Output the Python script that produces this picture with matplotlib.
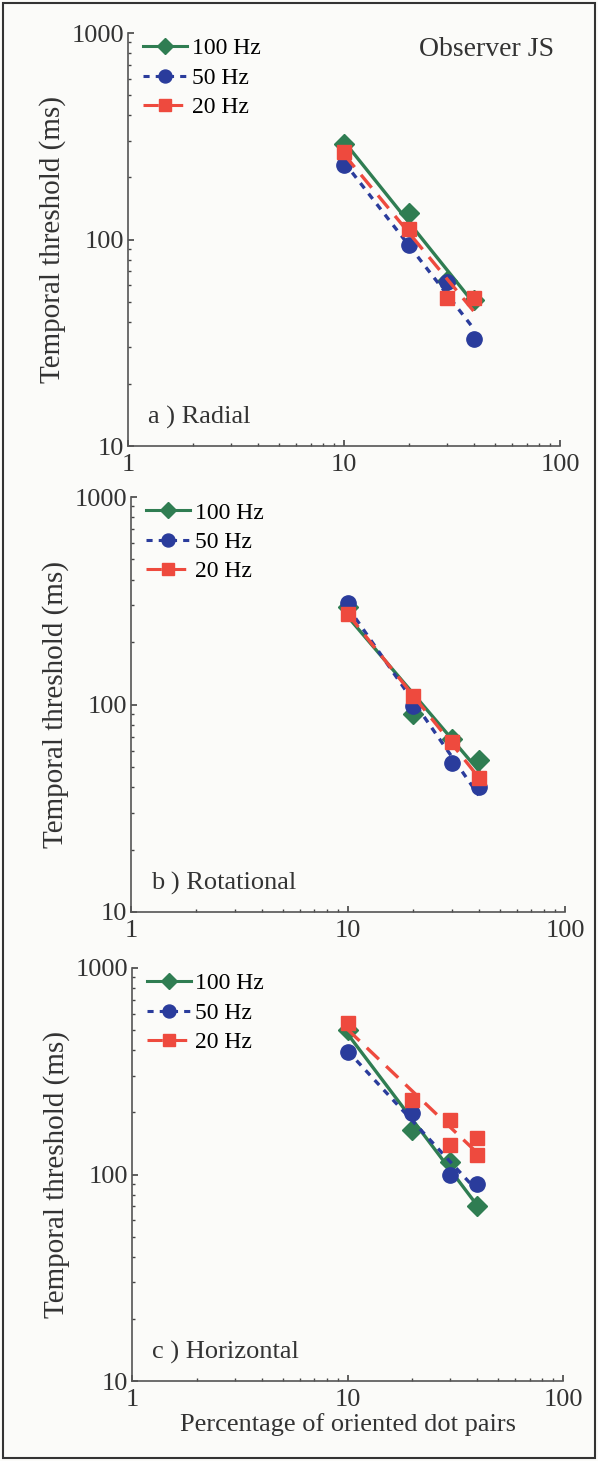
import numpy as np
import matplotlib.pyplot as plt
from matplotlib.patches import Rectangle

plt.rcParams['font.family'] = ['Liberation Serif', 'DejaVu Serif']

# Percentage of oriented dot pairs (x) and temporal thresholds (ms)
x_pct = [10, 20, 30, 40]
x_pct_c20 = [10, 20, 30, 30, 40, 40]

radial_100 = [290, 135, 63, 51]
radial_50 = [230, 94, 62, 33]
radial_20 = [265, 112, 52, 52]

rot_100 = [296, 90, 68, 54]
rot_50 = [307, 98, 52, 40]
rot_20 = [272, 110, 66, 44]

horiz_100 = [500, 164, 115, 70]
horiz_50 = [393, 198, 99, 90]
horiz_20 = [542, 230, 184, 139, 150, 124]

panel_labels = ['a ) Radial', 'b ) Rotational', 'c ) Horizontal']
freq_labels = ['100 Hz', '50 Hz', '20 Hz']

GREEN = '#2f7d52'
BLUE = '#2a3c9c'
RED = '#ee4a3e'

styles = [
    dict(color=GREEN, marker='D', ls='-', ms=10),
    dict(color=BLUE, marker='o', ls=(0, (2, 2)), ms=11),
    dict(color=RED, marker='s', ls=(0, (5, 3)), ms=10),
]

panels = [
    ([x_pct, x_pct, x_pct], [radial_100, radial_50, radial_20]),
    ([x_pct, x_pct, x_pct], [rot_100, rot_50, rot_20]),
    ([x_pct, x_pct, x_pct_c20], [horiz_100, horiz_50, horiz_20]),
]

W, H = 598, 1461
fig = plt.figure(figsize=(W / 100, H / 100), dpi=100)
fig.patch.set_facecolor('#fbfbf9')
TXT = '#333333'

# axes rectangles in pixels: left, top, right, bottom
boxes = [(128, 33, 560, 446), (131, 497, 565, 912), (132, 968, 563, 1381)]

for k, ((xs, ys), box) in enumerate(zip(panels, boxes)):
    l, t, r, b = box
    ax = fig.add_axes([l / W, 1 - b / H, (r - l) / W, (b - t) / H])
    ax.set_facecolor('none')
    ax.set_xscale('log')
    ax.set_yscale('log')
    ax.set_xlim(1, 100)
    ax.set_ylim(10, 1000)

    handles = []
    for xv, yv, st, lab in zip(xs, ys, styles, freq_labels):
        # power-law fit drawn as straight line in log-log
        p = np.polyfit(np.log10(xv), np.log10(yv), 1)
        xf = np.array([10, 40])
        yf = 10 ** np.polyval(p, np.log10(xf))
        ax.plot(xf, yf, color=st['color'], ls=st['ls'], lw=2.4)
        ax.plot(xv, yv, ls='none', marker=st['marker'], color=st['color'],
                ms=st['ms'], mec=st['color'])
        h, = ax.plot([], [], color=st['color'], ls=st['ls'], lw=2.2,
                     marker=st['marker'], ms=st['ms'] * 0.85)
        handles.append(h)

    ax.legend(handles, freq_labels, loc='upper left', frameon=False,
              fontsize=17, handlelength=1.85, handletextpad=0.2,
              labelspacing=0.33, borderaxespad=0, borderpad=0,
              bbox_to_anchor=(0.035, 0.988))

    for s in ['top', 'right']:
        ax.spines[s].set_visible(False)
    for s in ['left', 'bottom']:
        ax.spines[s].set_color('#555555')
        ax.spines[s].set_linewidth(1.2)

    ax.set_xticks([1, 10, 100])
    ax.set_xticklabels(['1', '10', '100'])
    ax.set_yticks([10, 100, 1000])
    ax.set_yticklabels(['10', '100', '1000'])
    ax.tick_params(which='major', direction='in', length=4, width=1.2,
                   labelsize=19, colors='#444444', labelcolor=TXT, pad=3)
    ax.tick_params(axis='x', which='major', pad=6)
    ax.tick_params(which='minor', direction='in', length=2.5, width=1,
                   colors='#444444')

    ax.set_ylabel('Temporal threshold (ms)', fontsize=21, color=TXT,
                  labelpad=4)
    ax.text(0.046, 0.068, panel_labels[k], transform=ax.transAxes,
            fontsize=19, color=TXT, ha='left', va='center')
    if k == 0:
        ax.text(0.831, 0.959, 'Observer JS', transform=ax.transAxes,
                fontsize=20, color=TXT, ha='center', va='center')
    if k == 2:
        ax.set_xlabel('Percentage of oriented dot pairs', fontsize=19,
                      color=TXT, labelpad=1)

fig.patches.append(Rectangle((3 / W, 3 / H), 1 - 6 / W, 1 - 6 / H,
                             transform=fig.transFigure, fill=False,
                             edgecolor=TXT, lw=1.5))

fig.savefig('out.png', dpi=100, facecolor=fig.get_facecolor())
